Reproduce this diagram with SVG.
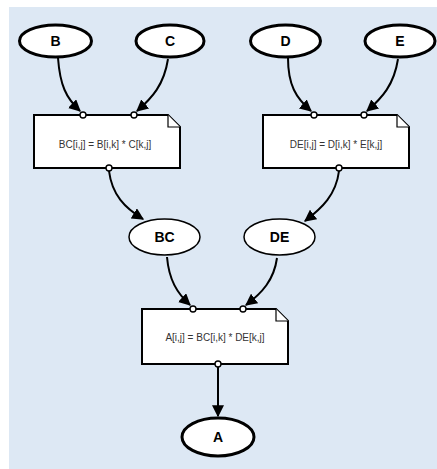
<svg xmlns="http://www.w3.org/2000/svg" width="437" height="469" viewBox="0 0 437 469">
<defs>
<style>
.bg{fill:#dde8f4}
.src{fill:#fff;stroke:#000;stroke-width:3}
.mid{fill:#fff;stroke:#000;stroke-width:1.5}
.box{fill:#fff;stroke:#000;stroke-width:2}
.fold{fill:#fff;stroke:#000;stroke-width:1.2}
.lbl{font-family:"Liberation Sans",Arial,sans-serif;font-size:14px;font-weight:bold;fill:#000;text-anchor:middle}
.eq{font-family:"Liberation Sans",Arial,sans-serif;font-size:10px;fill:#333;text-anchor:middle}
.edge{fill:none;stroke:#000;stroke-width:2}
.port{fill:#fff;stroke:#000;stroke-width:1.4}
</style>
<marker id="ah" viewBox="0 0 10 10" refX="9" refY="5" markerWidth="6" markerHeight="6" markerUnits="strokeWidth" orient="auto">
<path d="M0,0 L10,5 L0,10 z" fill="#000"/>
</marker>
</defs>
<rect class="bg" x="9" y="7" width="428" height="462"/>
<g id="connectors">
<path class="edge" marker-end="url(#ah)" d="M58,58 C60,85 66,98 80,111"/>
<path class="edge" marker-end="url(#ah)" d="M168,59 C164,85 152,98 137,111"/>
<path class="edge" marker-end="url(#ah)" d="M288,58 C288,85 296,98 311,111"/>
<path class="edge" marker-end="url(#ah)" d="M398,59 C394,85 382,98 367,111"/>
<path class="edge" marker-end="url(#ah)" d="M109,171 C112,195 125,208 143,219"/>
<path class="edge" marker-end="url(#ah)" d="M339,171 C336,195 322,208 305,221"/>
<path class="edge" marker-end="url(#ah)" d="M167,257 C169,280 177,293 190,305"/>
<path class="edge" marker-end="url(#ah)" d="M277,258 C274,280 262,293 246,305"/>
<path class="edge" marker-end="url(#ah)" d="M218,367 L218,416"/>
</g>
<g id="node-B"><ellipse class="src" cx="55.5" cy="41" rx="36" ry="16"/><text class="lbl" x="55.5" y="46">B</text></g>
<g id="node-C"><ellipse class="src" cx="170" cy="41" rx="34" ry="16"/><text class="lbl" x="170" y="46">C</text></g>
<g id="node-D"><ellipse class="src" cx="285.5" cy="41" rx="35" ry="16"/><text class="lbl" x="285.5" y="46">D</text></g>
<g id="node-E"><ellipse class="src" cx="400" cy="41" rx="35" ry="16"/><text class="lbl" x="400" y="46">E</text></g>
<g id="op-BC">
<path class="box" d="M34,115 L168,115 L180,127 L180,168 L34,168 Z"/>
<path class="fold" d="M168,115 L168,127 L180,127"/>
<text class="eq" x="105" y="148">BC[i,j] = B[i,k] * C[k,j]</text>
<circle class="port" cx="83" cy="115" r="3"/><circle class="port" cx="134" cy="115" r="3"/><circle class="port" cx="109" cy="168" r="3"/>
</g>
<g id="op-DE">
<path class="box" d="M263,115 L397,115 L409,127 L409,168 L263,168 Z"/>
<path class="fold" d="M397,115 L397,127 L409,127"/>
<text class="eq" x="336" y="148">DE[i,j] = D[i,k] * E[k,j]</text>
<circle class="port" cx="314" cy="115" r="3"/><circle class="port" cx="364" cy="115" r="3"/><circle class="port" cx="339" cy="168" r="3"/>
</g>
<g id="node-BC"><ellipse class="mid" cx="164.5" cy="237" rx="35.5" ry="18"/><text class="lbl" x="164.5" y="242">BC</text></g>
<g id="node-DE"><ellipse class="mid" cx="279.5" cy="237" rx="35.5" ry="18"/><text class="lbl" x="279.5" y="242">DE</text></g>
<g id="op-A">
<path class="box" d="M142,309 L276,309 L288,321 L288,364 L142,364 Z"/>
<path class="fold" d="M276,309 L276,321 L288,321"/>
<text class="eq" x="215" y="341">A[i,j] = BC[i,k] * DE[k,j]</text>
<circle class="port" cx="193" cy="309" r="3"/><circle class="port" cx="243" cy="309" r="3"/><circle class="port" cx="218" cy="364" r="3"/>
</g>
<g id="node-A"><ellipse class="src" cx="218" cy="437" rx="36" ry="19"/><text class="lbl" x="218" y="442">A</text></g>
</svg>
